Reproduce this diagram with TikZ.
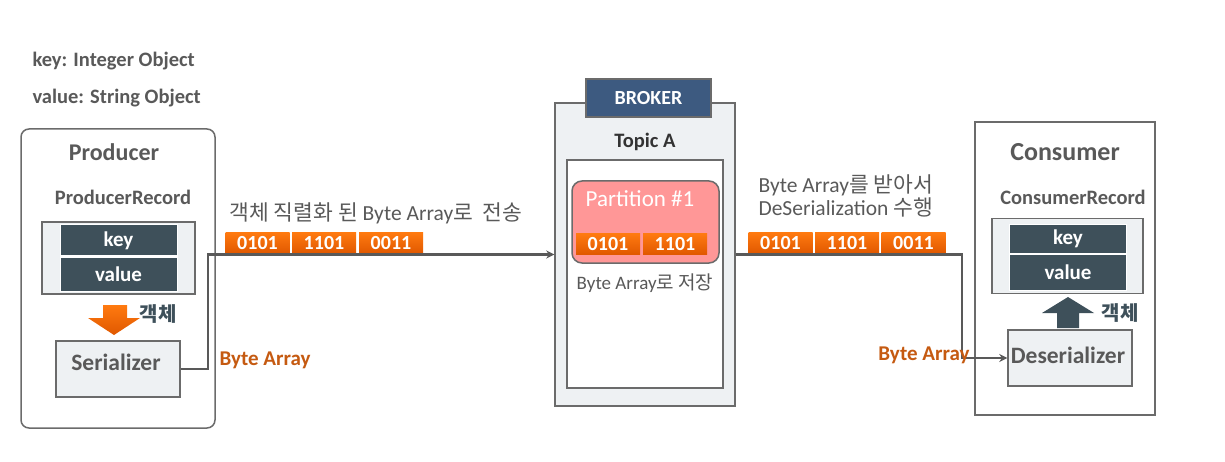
\documentclass[tikz,border=0pt]{standalone}
\usepackage{fontspec}
\usetikzlibrary{arrows.meta}
\setmainfont{Carlito}
\newfontfamily\kr{Noto Sans CJK KR}
\definecolor{txtgray}{HTML}{595959}
\definecolor{linegray}{HTML}{6B6B6B}
\definecolor{panel}{HTML}{EEF1F3}
\definecolor{slate}{HTML}{3E505A}
\definecolor{navy}{HTML}{3D5A80}
\definecolor{orangeA}{HTML}{FF7A10}
\definecolor{orangeB}{HTML}{E05800}
\definecolor{bytetxt}{HTML}{C55A11}
\definecolor{pink}{HTML}{FF9797}
\newcommand{\fs}[1]{\fontsize{#1}{#1}\selectfont}

\begin{document}
\begin{tikzpicture}[x=1pt,y=-1pt,
  box/.style={draw=linegray, line width=1.5pt, fill=panel, inner sep=0pt},
  bytebox/.style={minimum width=64pt, minimum height=21pt, inner sep=0pt,
    top color=orangeA, bottom color=orangeB, text=white, font=\bfseries\fs{20}},
  field/.style={fill=slate, draw=white, line width=1pt, text=white, minimum width=117pt, inner sep=0pt, font=\bfseries\fs{21}},
  head/.style={text=txtgray, font=\bfseries\fs{24}},
  sub/.style={text=txtgray, font=\bfseries\fs{20.5}},
  note/.style={text=txtgray, font=\fs{21.5}, align=left},
  link/.style={draw=txtgray, line width=2.2pt, -{Stealth[length=8pt,width=8pt]}}]
  \useasboundingbox (0,0) rectangle (1225,462);

  \node[sub, anchor=west] (keyinfo) at (29,61) {key: Integer Object};
  \node[sub, anchor=west] (valinfo) at (29,98) {value: String Object};

  % producer
  \node[draw=linegray, line width=1.5pt, rounded corners=8pt, minimum width=194pt, minimum height=299pt] (producer) at (118,278.5) {};
  \node[head] (ptitle) at (114,152) {Producer};
  \node[sub] (precord) at (123,197) {ProducerRecord};
  \node[box, minimum width=153pt, minimum height=72pt] (pbox) at (118.5,258) {};
  \node[field, minimum height=31pt] (pkey) at (118.5,240.5) {key};
  \node[field, minimum height=34pt] (pval) at (118.5,274) {value};
  \shade[top color=orangeA, bottom color=orangeB] (103,305) -- (127,305) -- (127,318) -- (140,318) -- (114,335) -- (88,318) -- (103,318) -- cycle;
  \node[text=slate, font=\kr\bfseries\fs{20}] (pobj) at (158,314) {객체};
  \node[box, minimum width=124pt, minimum height=56pt] (ser) at (118,369) {};
  \node[head, font=\bfseries\fs{23.5}] (sertxt) at (116,362) {Serializer};

  % broker
  \node[box, minimum width=180pt, minimum height=303pt] (broker) at (645,254.5) {};
  \node[draw=linegray, line width=1.5pt, fill=navy, text=white, font=\bfseries\fs{20},
    minimum width=125pt, minimum height=38pt, inner sep=0pt] (blabel) at (648.5,98) {BROKER};
  \node[text=black!80, font=\bfseries\fs{20.5}] (topic) at (645,142) {Topic A};
  \node[draw=linegray, line width=1.5pt, fill=white, minimum width=156pt, minimum height=228pt] (tbox) at (645,274) {};
  \node[draw=linegray, line width=1.5pt, fill=pink, rounded corners=10pt, minimum width=147pt, minimum height=82pt] (part) at (645.5,222) {};
  \node[text=white, font=\fs{23}] (ptxt) at (640,199) {Partition \#1};
  \node[bytebox] (b1) at (608,244) {0101};
  \node[bytebox] (b2) at (675,244) {1101};
  \node[text=txtgray, font=\fs{19}] (store) at (645,283) {Byte Array{\kr 로 저장}};

  % consumer
  \node[draw=linegray, line width=1.5pt, minimum width=180pt, minimum height=293pt] (consumer) at (1065,268.5) {};
  \node[head, font=\bfseries\fs{26}] (ctitle) at (1065,152) {Consumer};
  \node[sub] (crecord) at (1073,197) {ConsumerRecord};
  \node[box, minimum width=151pt, minimum height=75pt] (cbox) at (1067.5,256) {};
  \node[field, minimum height=29pt, minimum width=117pt] (ckey) at (1068,239) {key};
  \node[field, minimum height=35pt, minimum width=117pt] (cval) at (1068,272.5) {value};
  \fill[slate] (1057,328) -- (1057,313) -- (1042,313) -- (1068,297) -- (1094,313) -- (1079,313) -- (1079,328) -- cycle;
  \node[text=slate, font=\kr\bfseries\fs{20}] (cobj) at (1120,313) {객체};
  \node[box, minimum width=124pt, minimum height=56pt] (deser) at (1070,358) {};
  \node[head, font=\bfseries\fs{23.5}] (destxt) at (1068,355) {Deserializer};

  % byte arrays in transit
  \node[bytebox] (s1) at (257.5,243) {0101};
  \node[bytebox] (s2) at (324,243) {1101};
  \node[bytebox] (s3) at (391,243) {0011};
  \node[bytebox] (r1) at (780.5,243) {0101};
  \node[bytebox] (r2) at (847,243) {1101};
  \node[bytebox] (r3) at (913.5,243) {0011};
  \node[note, anchor=west] (send) at (226,213) {{\kr 객체 직렬화 된} Byte Array{\kr 로\ \ 전송}};
  \node[note, anchor=west] (recv) at (755,196) {Byte Array{\kr 를 받아서}\\[2pt]DeSerialization {\kr 수행}};

  \coordinate (turn) at (962,358);
  \draw[link] (ser.east) -- ++(27,0) |- (broker.west);
  \draw[link] (broker.east) -| (turn) -- (deser.west);
  \node[text=bytetxt, font=\bfseries\fs{21}, anchor=west] (pbytes) at (216,360) {Byte Array};
  \node[text=bytetxt, font=\bfseries\fs{21}, anchor=east] (cbytes) at (973,355) {Byte Array};
\end{tikzpicture}
\end{document}
